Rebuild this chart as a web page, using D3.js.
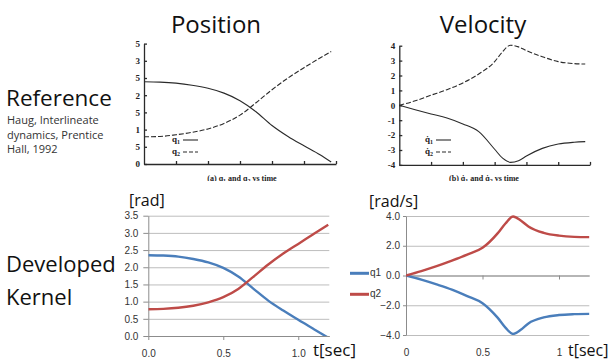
<!DOCTYPE html>
<html>
<head>
<meta charset="utf-8">
<script src="https://cdn.jsdelivr.net/npm/d3@7"></script>
<style>
  body { margin: 0; background: #fff; }
  svg { display: block; }
  .big { font-family: "Open Sans", "Noto Sans", sans-serif; fill: #111; }
  .scan text { font-family: "Liberation Serif", serif; font-weight: bold; fill: #222; }
  .dev text { font-family: "Liberation Sans Narrow", "Liberation Sans", sans-serif; fill: #333; }
</style>
</head>
<body>
<script>
// ---- data ----
// reference (scanned) position plot
var refTime = [0, 0.1, 0.2, 0.3, 0.4, 0.5, 0.6, 0.7, 0.8, 0.9, 1.0, 1.1, 1.17];
var refQ1 = [2.39, 2.38, 2.35, 2.29, 2.2, 2.06, 1.84, 1.52, 1.12, 0.8, 0.53, 0.27, 0.06];
var refQ2 = [0.79, 0.8, 0.85, 0.92, 1.02, 1.18, 1.42, 1.78, 2.16, 2.5, 2.8, 3.08, 3.27];

// reference (scanned) velocity plot
var refVelTime = [0, 0.1, 0.2, 0.3, 0.4, 0.5, 0.6, 0.65, 0.7, 0.75, 0.8, 0.9, 1.0, 1.1, 1.17];
var refDq1 = [0, -0.3, -0.58, -0.85, -1.25, -1.77, -2.95, -3.55, -3.83, -3.72, -3.4, -2.89, -2.6, -2.48, -2.44];
var refDq2 = [0, 0.3, 0.68, 1.05, 1.5, 2.1, 2.93, 3.6, 4.03, 3.92, 3.67, 3.26, 2.93, 2.8, 2.77];

// developed kernel position plot
var devTime = [0, 0.1, 0.2, 0.3, 0.4, 0.5, 0.6, 0.7, 0.8, 0.9, 1.0, 1.1, 1.2];
var devQ1 = [2.35, 2.34, 2.31, 2.24, 2.14, 1.98, 1.73, 1.38, 1.03, 0.74, 0.47, 0.21, -0.05];
var devQ2 = [0.78, 0.79, 0.82, 0.88, 0.98, 1.13, 1.37, 1.72, 2.08, 2.40, 2.68, 2.96, 3.24];

// developed kernel velocity plot
var devVelTime = [0, 0.1, 0.2, 0.3, 0.4, 0.5, 0.6, 0.65, 0.7, 0.75, 0.8, 0.9, 1.0, 1.1, 1.2];
var devDq1 = [0, -0.28, -0.6, -0.95, -1.38, -1.86, -2.85, -3.5, -3.93, -3.65, -3.22, -2.82, -2.66, -2.6, -2.58];
var devDq2 = [0, 0.3, 0.63, 1.0, 1.4, 1.86, 2.85, 3.5, 3.97, 3.7, 3.3, 2.87, 2.68, 2.6, 2.58];

var posTicks = [0, 0.5, 1, 1.5, 2, 2.5, 3, 3.5];
var refVelTicks = [-4, -3, -2, -1, 0, 1, 2, 3, 4];
var devVelTicks = [-4, -2, 0, 2, 4];
var refTimeTicks = [0.2, 0.4, 0.6, 0.8, 1.0, 1.2];
var devPosTimeTicks = [0, 0.5, 1.0];
var devVelTimeTicks = [0, 0.5, 1];

var blue = "#4a7ebb", red = "#be4b48";

var svg = d3.select("body")
    .append("svg")
    .attr("width", 612)
    .attr("height", 360);

function zip(t, v) { return t.map(function (d, i) { return [d, v[i]]; }); }

// ---- left hand labels and titles ----
svg.append("text").attr("class", "big").attr("x", 216).attr("y", 33)
    .attr("text-anchor", "middle").style("font-size", "24px").text("Position");
svg.append("text").attr("class", "big").attr("x", 483).attr("y", 33)
    .attr("text-anchor", "middle").style("font-size", "24px").text("Velocity");

svg.append("text").attr("class", "big").attr("x", 6).attr("y", 105.5)
    .style("font-size", "22.5px").text("Reference");
["Haug, Interlineate", "dynamics, Prentice", "Hall, 1992"].forEach(function (s, i) {
    svg.append("text").attr("class", "big").attr("x", 7).attr("y", 124 + i * 14.5)
        .style("font-size", "11px").style("fill", "#333").text(s);
});
svg.append("text").attr("class", "big").attr("x", 6).attr("y", 272)
    .style("font-size", "22px").text("Developed");
svg.append("text").attr("class", "big").attr("x", 6).attr("y", 305)
    .style("font-size", "22px").text("Kernel");

// ---- top: scanned reference plots ----
svg.append("clipPath").attr("id", "topclip")
    .append("rect").attr("x", 0).attr("y", 0).attr("width", 612).attr("height", 181);

var scan = svg.append("g").attr("class", "scan").attr("clip-path", "url(#topclip)");

function scanPlot(x, y, yTicks, series, legend, caption, capX) {
    var yAxis = scan.append("g")
        .attr("transform", "translate(" + x.range()[0] + ",0)")
        .call(d3.axisLeft(y).tickValues(yTicks).tickSizeInner(-3).tickSizeOuter(0).tickPadding(4)
            .tickFormat(function (d) { var s = String(d); return s.length > 2 ? s.slice(-1) : s; }));
    var xAxis = scan.append("g")
        .attr("transform", "translate(0," + y.range()[0] + ")")
        .call(d3.axisBottom(x).tickValues(refTimeTicks).tickSizeInner(-3).tickSizeOuter(0).tickFormat(""));
    [yAxis, xAxis].forEach(function (a) {
        a.selectAll("path, line").attr("stroke", "#2a2a2a").attr("stroke-width", 1.3);
        a.selectAll("text").style("font-size", "9px");
    });

    var line = d3.line().x(function (d) { return x(d[0]); }).y(function (d) { return y(d[1]); })
        .curve(d3.curveMonotoneX);
    series.forEach(function (s) {
        scan.append("path").datum(s.data)
            .attr("fill", "none").attr("stroke", "#2a2a2a").attr("stroke-width", 1.1)
            .attr("stroke-dasharray", s.dash ? "5,2" : null)
            .attr("d", line);
    });

    legend.forEach(function (l, i) {
        var ly = l.y;
        var t = scan.append("text").attr("x", l.x).attr("y", ly + 2).style("font-size", "9px");
        t.append("tspan").text(l.name);
        t.append("tspan").attr("dy", 2).style("font-size", "6px").text(l.sub);
        scan.append("line").attr("x1", l.x + 11).attr("x2", l.x + 26).attr("y1", ly).attr("y2", ly)
            .attr("stroke", "#2a2a2a").attr("stroke-width", 1.1)
            .attr("stroke-dasharray", l.dash ? "4,2" : null);
    });

    var c = scan.append("text").attr("x", capX).attr("y", 181).attr("text-anchor", "middle")
        .style("font-size", "8px");
    caption.forEach(function (p) {
        var ts = c.append("tspan").text(p.t);
        if (p.sub) ts.attr("dy", 1.5).style("font-size", "6px");
        else if (p.back) ts.attr("dy", -1.5);
    });
}

var rpx = d3.scaleLinear().domain([0, 1.2]).range([144, 336]);
var rpy = d3.scaleLinear().domain([0, 3.5]).range([164, 43.6]);
scanPlot(rpx, rpy, posTicks,
    [{ data: zip(refTime, refQ1), dash: false }, { data: zip(refTime, refQ2), dash: true }],
    [{ x: 172, y: 140, name: "q", sub: "1", dash: false }, { x: 172, y: 152, name: "q", sub: "2", dash: true }],
    [{ t: "(a) q" }, { t: "1", sub: true }, { t: " and q", back: true }, { t: "2", sub: true }, { t: " vs time", back: true }],
    242);

var rvx = d3.scaleLinear().domain([0, 1.2]).range([399.3, 590]);
var rvy = d3.scaleLinear().domain([-4, 4]).range([164.9, 45.7]);
scanPlot(rvx, rvy, refVelTicks,
    [{ data: zip(refVelTime, refDq1), dash: false }, { data: zip(refVelTime, refDq2), dash: true }],
    [{ x: 425, y: 140, name: "q\u0307", sub: "1", dash: false }, { x: 425, y: 152, name: "q\u0307", sub: "2", dash: true }],
    [{ t: "(b) q\u0307" }, { t: "1", sub: true }, { t: " and q\u0307", back: true }, { t: "2", sub: true }, { t: " vs time", back: true }],
    484);

// ---- bottom: developed kernel plots ----
var dev = svg.append("g").attr("class", "dev");

function devPlot(x, y, yTicks, xTicks, xFmt, xAxisAt, series, tickLen, pad) {
    var w = x.range()[1] - x.range()[0];
    var id = "clip" + Math.round(x.range()[0]);
    dev.append("clipPath").attr("id", id).append("rect")
        .attr("x", x.range()[0]).attr("y", y.range()[1] - 3)
        .attr("width", w).attr("height", y.range()[0] - y.range()[1] + 3);

    // gridlines
    var grid = dev.append("g")
        .attr("transform", "translate(" + x.range()[0] + ",0)")
        .call(d3.axisLeft(y).tickValues(yTicks).tickSizeInner(-w).tickSizeOuter(0).tickFormat(""));
    grid.select(".domain").remove();
    grid.selectAll("line").attr("stroke", "#bdbdbd");

    // y axis with labels
    var ya = dev.append("g")
        .attr("transform", "translate(" + x.range()[0] + ",0)")
        .call(d3.axisLeft(y).tickValues(yTicks).tickSizeInner(tickLen).tickSizeOuter(0).tickPadding(pad)
            .tickFormat(d3.format(".1f")));
    ya.selectAll("path, line").attr("stroke", "#8c8c8c");
    ya.selectAll("text").style("font-size", "10px");

    // horizontal axis line with tick marks
    var xa = dev.append("g")
        .attr("transform", "translate(0," + y(xAxisAt) + ")")
        .call(d3.axisBottom(x).tickValues(xTicks).tickSizeInner(4).tickSizeOuter(0).tickFormat(""));
    xa.selectAll("path, line").attr("stroke", "#8c8c8c");

    // tick labels kept at the bottom of the plot
    var xl = dev.append("g")
        .attr("transform", "translate(0," + y.range()[0] + ")")
        .call(d3.axisBottom(x).tickValues(xTicks).tickSize(0).tickPadding(14).tickFormat(xFmt));
    xl.select(".domain").remove();
    xl.selectAll("text").style("font-size", "10px");

    var line = d3.line().x(function (d) { return x(d[0]); }).y(function (d) { return y(d[1]); })
        .curve(d3.curveMonotoneX);
    series.forEach(function (s) {
        dev.append("path").datum(s.data)
            .attr("clip-path", "url(#" + id + ")")
            .attr("fill", "none").attr("stroke", s.color).attr("stroke-width", 2.4)
            .attr("stroke-linejoin", "round")
            .attr("d", line);
    });
}

var dpx = d3.scaleLinear().domain([0, 1.207]).range([148.3, 329.3]);
var dpy = d3.scaleLinear().domain([0, 3.5]).range([336, 215.7]);
devPlot(dpx, dpy, posTicks, devPosTimeTicks, d3.format(".1f"), 0,
    [{ data: zip(devTime, devQ1), color: blue }, { data: zip(devTime, devQ2), color: red }], 5, 5);

var dvx = d3.scaleLinear().domain([0, 1.198]).range([406, 589.3]);
var dvy = d3.scaleLinear().domain([-4, 4]).range([335, 216]);
devPlot(dvx, dvy, devVelTicks, devVelTimeTicks, function (d) { return String(d); }, 0,
    [{ data: zip(devVelTime, devDq1), color: blue }, { data: zip(devVelTime, devDq2), color: red }], 3, 3);

// legend between the two developed plots
[{ name: "q1", color: blue, y: 273.3 }, { name: "q2", color: red, y: 294.3 }].forEach(function (l) {
    dev.append("line").attr("x1", 350).attr("x2", 369).attr("y1", l.y).attr("y2", l.y)
        .attr("stroke", l.color).attr("stroke-width", 3);
    dev.append("text").attr("x", 370).attr("y", l.y + 3).style("font-size", "10px").text(l.name);
});

// axis units
svg.append("text").attr("class", "big").attr("x", 129).attr("y", 206).style("font-size", "16px").text("[rad]");
svg.append("text").attr("class", "big").attr("x", 369).attr("y", 207).style("font-size", "16px").text("[rad/s]");
svg.append("text").attr("class", "big").attr("x", 313).attr("y", 356).style("font-size", "17px").text("t[sec]");
svg.append("text").attr("class", "big").attr("x", 568).attr("y", 356).style("font-size", "16px").text("t[sec]");
</script>
</body>
</html>
